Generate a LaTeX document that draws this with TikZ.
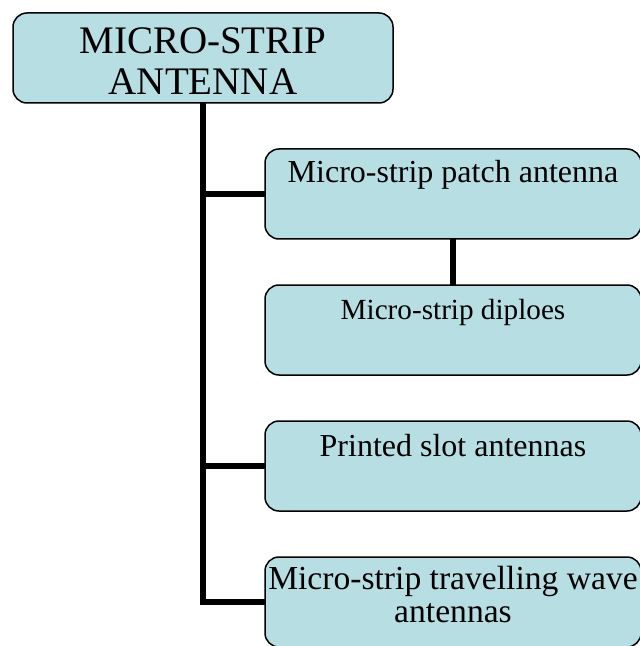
\documentclass[tikz,border=0pt]{standalone}
\usepackage{fontspec}
\setmainfont{Liberation Serif}
\usepackage{tikz}
\usetikzlibrary{positioning}
\definecolor{boxfill}{RGB}{183,222,227}
\tikzstyle{box}=[fill=boxfill, draw=black, line width=0.75pt, rounded corners=7pt,
        minimum width=188pt, minimum height=45pt, inner xsep=1pt, inner ysep=0pt,
        outer sep=0pt, align=center, font=\fontsize{16}{17}\selectfont]
\tikzstyle{link}=[line width=2.6pt, draw=black]

\begin{document}
\begin{tikzpicture}
        \useasboundingbox (0pt,0pt) rectangle (320pt,-323pt);

        \node[box, minimum width=190pt, text height=37pt, text depth=0pt,
            font=\fontsize{19.5}{20.5}\selectfont] (0) at (101.5pt,-29pt)
            {MICRO-STRIP\\ ANTENNA};

        \node[box, text height=11pt, text depth=22pt,
            below=23pt of 0, xshift=125pt] (1)
            {Micro-strip patch antenna};

        \node[box, text height=11pt, text depth=22pt,
            font=\fontsize{14.6}{16}\selectfont, below=23pt of 1] (2)
            {Micro-strip diploes};

        \node[box, text height=11pt, text depth=21pt, below=23pt of 2] (3)
            {Printed slot antennas};

        \node[box, text height=20pt, text depth=0pt,
            font=\fontsize{16.8}{16.5}\selectfont, below=23pt of 3] (4)
            {Micro-strip travelling wave\\ antennas};

        \draw[link] (0) |- (1);
        \draw[link] (0) |- (3);
        \draw[link] (0) |- (4);
        \draw[link] (1) to (2);

    \end{tikzpicture}
\end{document}
